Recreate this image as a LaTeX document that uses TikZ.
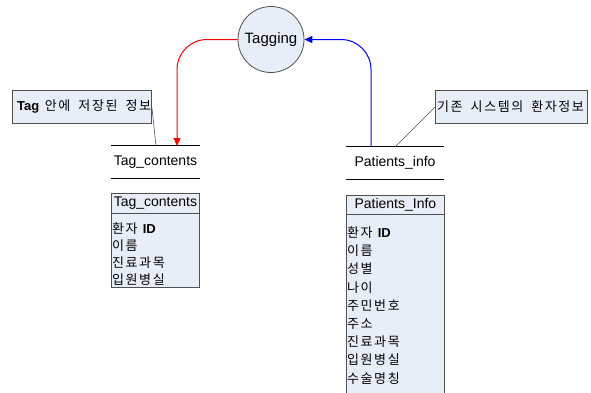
\documentclass[tikz,border=0pt]{standalone}
\usepackage{fontspec}
\setmainfont{Liberation Sans}
\newfontfamily\kr[LetterSpace=12]{Noto Sans CJK KR}
\newfontfamily\krwide[LetterSpace=12,WordSpace=1.8]{Noto Sans CJK KR}
\usetikzlibrary{arrows.meta,calc}
\definecolor{boxfill}{HTML}{E8EEF8}
\definecolor{edgegray}{HTML}{505050}
\tikzset{
  procnode/.style={circle,draw=edgegray,fill=boxfill,line width=0.8pt,minimum size=66pt,inner sep=0pt,font=\fontsize{15}{18}\selectfont},
  storetext/.style={inner sep=0pt,minimum width=89pt,minimum height=32pt,font=\fontsize{14}{16}\selectfont},
  storeline/.style={draw=black,line width=0.7pt},
  callbox/.style={draw=edgegray,fill=boxfill,line width=0.8pt,inner sep=0pt,anchor=north west,font=\fontsize{13}{16}\selectfont},
  leader/.style={draw=edgegray,line width=0.6pt},
  tblbox/.style={draw=edgegray,fill=boxfill,line width=0.8pt,inner sep=0pt,anchor=north west},
  rows/.style={inner sep=0pt,anchor=north west,align=left},
  redflow/.style={draw=red,line width=1pt,rounded corners=30pt,-{Triangle[length=8pt,width=7pt]}},
  blueflow/.style={draw=blue,line width=1pt,rounded corners=30pt,-{Triangle[length=8pt,width=7pt]}},
}
\begin{document}
\begin{tikzpicture}[x=1pt,y=-1pt]
\useasboundingbox (0,0) rectangle (591,392);
% process
\node[procnode] (tag) at (271,39.5) {Tagging};
% data stores
\node[storetext] (tcs) at (155.5,162) {Tag\_contents};
\draw[storeline] (tcs.north west) -- (tcs.north east);
\draw[storeline] (tcs.south west) -- (tcs.south east);
\node[storetext,minimum width=98pt] (pis) at (395,163) {Patients\_info};
\draw[storeline] (pis.north west) -- (pis.north east);
\draw[storeline] (pis.south west) -- (pis.south east);
% flows
\coordinate (redend) at (177,146);
\coordinate (bluestart) at (371,147);
\path[redflow] (tag.west) -| (redend);
\path[blueflow] (bluestart) |- (tag.east);
% callouts
\node[callbox,minimum width=139pt,minimum height=33pt] (c1) at (12,90) {};
\node[anchor=west,inner sep=0pt,font=\fontsize{13}{16}\selectfont] (c1t) at (17,106.5) {\textbf{Tag}\hspace{2pt} {\krwide 안에 저장된 정보}};
\coordinate (c1a) at (152,108);
\coordinate (c1b) at (156,146);
\draw[leader] (c1a) -- (c1b);
\node[callbox,minimum width=152pt,minimum height=33pt] (c2) at (435,90) {};
\node[anchor=west,inner sep=0pt,font=\fontsize{13}{16}\selectfont] (c2t) at (437,106.5) {\krwide 기존 시스템의 환자정보};
\coordinate (c2a) at (435,107);
\coordinate (c2b) at (395,147);
\draw[leader] (c2a) -- (c2b);
% Tag_contents table
\node[tblbox,minimum width=88pt,minimum height=20pt,font=\fontsize{14}{16}\selectfont] (t1h) at (111,193) {Tag\_contents};
\node[tblbox,minimum width=88pt,minimum height=74pt] (t1b) at (111,213) {};
\node[rows,font=\fontsize{13}{17.1}\selectfont] (t1r) at (112,222.5) {{\kr 환자} \textbf{ID}\\{\kr 이름}\\{\kr 진료과목}\\{\kr 입원병실}};
% Patients_Info table
\node[tblbox,minimum width=98pt,minimum height=19pt,font=\fontsize{14}{16}\selectfont] (t2h) at (346,195) {Patients\_Info};
\node[tblbox,minimum width=98pt,minimum height=190pt] (t2b) at (346,214) {};
\node[rows,font=\fontsize{13}{18.2}\selectfont] (t2r) at (347,226.5) {{\kr 환자} \textbf{ID}\\{\kr 이름}\\{\kr 성별}\\{\kr 나이}\\{\kr 주민번호}\\{\kr 주소}\\{\kr 진료과목}\\{\kr 입원병실}\\{\kr 수술명칭}};
\end{tikzpicture}
\end{document}
